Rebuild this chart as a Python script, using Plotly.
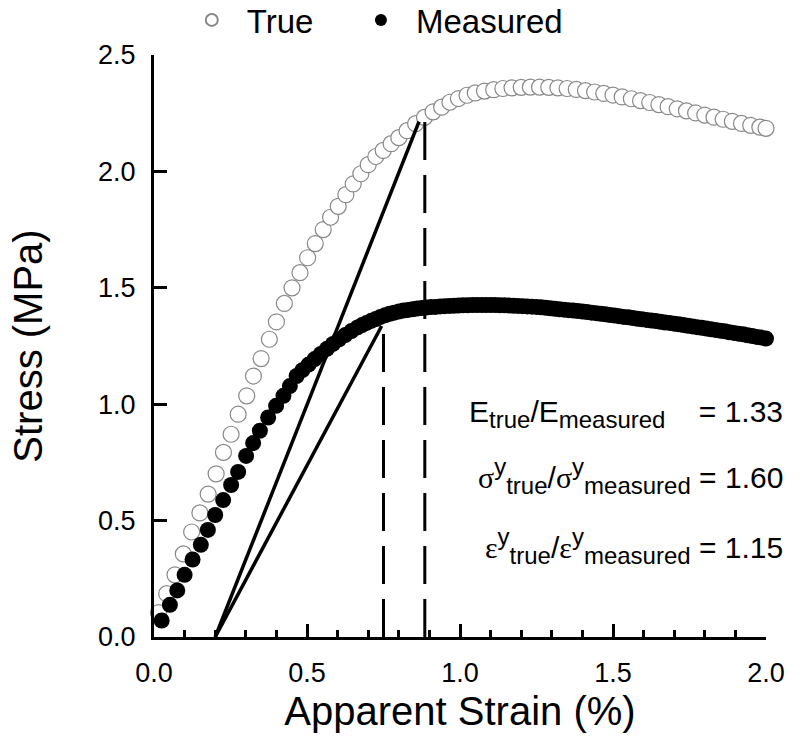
import plotly.graph_objects as go

# ---- data ----
true_strain = [0.0145, 0.0415, 0.0686, 0.0958, 0.123, 0.150, 0.177, 0.203, 0.227, 0.252,
               0.275, 0.303, 0.325, 0.350, 0.377, 0.400, 0.426, 0.451, 0.477, 0.502,
               0.527, 0.553, 0.577, 0.602, 0.627, 0.651, 0.676, 0.700, 0.725, 0.749,
               0.775, 0.800, 0.827, 0.855, 0.884, 0.912, 0.940, 0.967, 0.995, 1.023,
               1.05, 1.08, 1.11, 1.14, 1.17, 1.20, 1.23, 1.26, 1.29, 1.32,
               1.35, 1.38, 1.41, 1.44, 1.47, 1.50, 1.53, 1.56, 1.59, 1.62,
               1.65, 1.68, 1.71, 1.74, 1.77, 1.80, 1.83, 1.86, 1.89, 1.92,
               1.95, 1.98, 2.00]
true_stress = [0.105, 0.186, 0.267, 0.357, 0.451, 0.533, 0.614, 0.701, 0.793, 0.871,
               0.957, 1.036, 1.121, 1.196, 1.279, 1.354, 1.433, 1.500, 1.565, 1.629,
               1.690, 1.750, 1.803, 1.850, 1.900, 1.946, 1.990, 2.029, 2.064, 2.090,
               2.119, 2.145, 2.175, 2.205, 2.232, 2.256, 2.276, 2.297, 2.313, 2.327,
               2.337, 2.345, 2.351, 2.356, 2.359, 2.361, 2.362, 2.362, 2.361, 2.359,
               2.356, 2.352, 2.347, 2.341, 2.335, 2.328, 2.320, 2.312, 2.304, 2.296,
               2.287, 2.278, 2.269, 2.260, 2.251, 2.242, 2.233, 2.224, 2.215, 2.206,
               2.198, 2.190, 2.185]

meas_strain = [0.025, 0.052, 0.076, 0.100, 0.126, 0.153, 0.176, 0.200, 0.226, 0.252,
               0.275, 0.301, 0.324, 0.346, 0.373, 0.399, 0.423, 0.444, 0.466,
               0.485, 0.505, 0.525, 0.545, 0.565, 0.585, 0.605, 0.625, 0.645,
               0.665, 0.680, 0.695, 0.710, 0.725, 0.740, 0.755, 0.770, 0.785, 0.800,
               0.815, 0.830, 0.845, 0.860, 0.875, 0.890, 0.905, 0.920, 0.935, 0.950,
               0.965, 0.980, 0.995, 1.010, 1.025, 1.040, 1.055, 1.070, 1.085, 1.100,
               1.115, 1.130, 1.145, 1.160, 1.175, 1.190, 1.205, 1.220, 1.235, 1.250,
               1.265, 1.280, 1.295, 1.310, 1.325, 1.340, 1.355, 1.370, 1.385, 1.400,
               1.415, 1.430, 1.445, 1.460, 1.475, 1.490, 1.505, 1.520, 1.535, 1.550,
               1.565, 1.580, 1.595, 1.610, 1.625, 1.640, 1.655, 1.670, 1.685, 1.700,
               1.715, 1.730, 1.745, 1.760, 1.775, 1.790, 1.805, 1.820, 1.835, 1.850,
               1.865, 1.880, 1.895, 1.910, 1.925, 1.940, 1.955, 1.970, 1.985, 2.000]
meas_stress = [0.071, 0.138, 0.200, 0.267, 0.333, 0.396, 0.460, 0.524, 0.588, 0.653,
               0.709, 0.778, 0.833, 0.886, 0.943, 0.993, 1.036, 1.078, 1.121,
               1.146, 1.170, 1.194, 1.216, 1.238, 1.259, 1.279, 1.297, 1.314,
               1.330, 1.340, 1.349, 1.358, 1.366, 1.375, 1.382, 1.388, 1.393, 1.398,
               1.402, 1.405, 1.408, 1.411, 1.413, 1.415, 1.417, 1.418, 1.420, 1.421,
               1.422, 1.423, 1.424, 1.425, 1.425, 1.426, 1.426, 1.426, 1.426, 1.426,
               1.426, 1.425, 1.425, 1.424, 1.423, 1.422, 1.421, 1.420, 1.419, 1.418,
               1.416, 1.414, 1.412, 1.410, 1.408, 1.406, 1.404, 1.402, 1.400, 1.398,
               1.396, 1.393, 1.391, 1.388, 1.386, 1.383, 1.381, 1.378, 1.375, 1.373,
               1.370, 1.367, 1.365, 1.362, 1.359, 1.357, 1.354, 1.351, 1.349, 1.346,
               1.343, 1.340, 1.337, 1.334, 1.331, 1.328, 1.325, 1.322, 1.319, 1.316,
               1.313, 1.309, 1.306, 1.303, 1.300, 1.296, 1.293, 1.289, 1.286, 1.282]

# 0.2% offset lines and yield markers
offset_line_true_x = [0.2, 0.866]
offset_line_true_y = [0.0, 2.214]
offset_line_meas_x = [0.2, 0.744]
offset_line_meas_y = [0.0, 1.336]
yield_true_x = [0.885, 0.885]
yield_true_y = [0.0, 2.232]
yield_meas_x = [0.75, 0.75]
yield_meas_y = [0.0, 1.336]

x_ticks = [0.0, 0.5, 1.0, 1.5, 2.0]
y_ticks = [0.0, 0.5, 1.0, 1.5, 2.0, 2.5]

SUBF = 'style="font-size:24px"'
SERIF = 'style="font-family:Liberation Serif"'
ratio_lines = [
    f"E<sub><span {SUBF}>true</span></sub>/E<sub><span {SUBF}>measured</span></sub>&nbsp;&nbsp;&nbsp; = 1.33",
    f"<span {SERIF}>σ</span><sup><span {SUBF}>y</span></sup><sub><span {SUBF}>true</span></sub>/<span {SERIF}>σ</span><sup><span {SUBF}>y</span></sup><sub><span {SUBF}>measured</span></sub> = 1.60",
    f"<span {SERIF}>ε</span><sup><span {SUBF}>y</span></sup><sub><span {SUBF}>true</span></sub>/<span {SERIF}>ε</span><sup><span {SUBF}>y</span></sup><sub><span {SUBF}>measured</span></sub> = 1.15",
]
ratio_y = [0.958, 0.691, 0.391]

FONT = "Liberation Sans, Arial, Helvetica, sans-serif"

fig = go.Figure()

fig.add_trace(go.Scatter(
    x=true_strain, y=true_stress, mode="markers", name="True\u00a0\u00a0\u00a0",
    marker=dict(symbol="circle", size=16, color="white",
                line=dict(color="#888888", width=1.2)),
    cliponaxis=False))
fig.add_trace(go.Scatter(
    x=meas_strain, y=meas_stress, mode="markers", name="Measured",
    marker=dict(symbol="circle", size=16, color="black",
                line=dict(color="black", width=0)),
    cliponaxis=False))

for xs, ys, dash, w in [(offset_line_true_x, offset_line_true_y, "solid", 3.5),
                        (offset_line_meas_x, offset_line_meas_y, "solid", 3.5),
                        (yield_true_x, yield_true_y, "38px,15px", 3),
                        (yield_meas_x, yield_meas_y, "38px,15px", 3)]:
    fig.add_trace(go.Scatter(x=xs, y=ys, mode="lines", showlegend=False,
                             line=dict(color="black", width=w, dash=dash),
                             hoverinfo="skip"))

for txt, yy in zip(ratio_lines, ratio_y):
    fig.add_annotation(x=1.031, y=yy / 2.5, xref="paper", yref="paper", text=txt,
                       showarrow=False, xanchor="right", yanchor="middle",
                       font=dict(family=FONT, size=30, color="black"))

axis_common = dict(showgrid=False, zeroline=False, showline=True,
                   linecolor="black", linewidth=3, ticks="inside",
                   ticklen=13, tickwidth=3, tickcolor="black",
                   tickformat=".1f", tickfont=dict(family=FONT, size=27, color="black"))

fig.update_layout(
    width=800, height=748,
    margin=dict(l=154, r=34, t=55, b=111),
    plot_bgcolor="white", paper_bgcolor="white",
    font=dict(family=FONT, color="black"),
    showlegend=True,
    legend=dict(orientation="h", x=0.221, y=0.9733, xref="container", yref="container",
                xanchor="left", yanchor="middle",
                font=dict(family=FONT, size=33, color="black"),
                itemsizing="constant", itemwidth=60, bgcolor="rgba(0,0,0,0)"),
    xaxis=dict(range=[0, 2.0], tickvals=x_ticks,
               minor=dict(dtick=0.1, tick0=0, ticks="inside", ticklen=7,
                          tickwidth=2.5, tickcolor="black"),
               title=dict(text="Apparent Strain (%)", standoff=10,
                          font=dict(family=FONT, size=40, color="black")),
               ticklabelstandoff=10, automargin=False, **axis_common),
    yaxis=dict(range=[0, 2.5], tickvals=y_ticks,
               title=dict(text="Stress (MPa)", standoff=44,
                          font=dict(family=FONT, size=40, color="black")),
               ticklabelstandoff=10, automargin=False, **axis_common),
)

fig.write_html("out.html", config={"displayModeBar": False},
               post_script="document.body.style.margin='0';")
